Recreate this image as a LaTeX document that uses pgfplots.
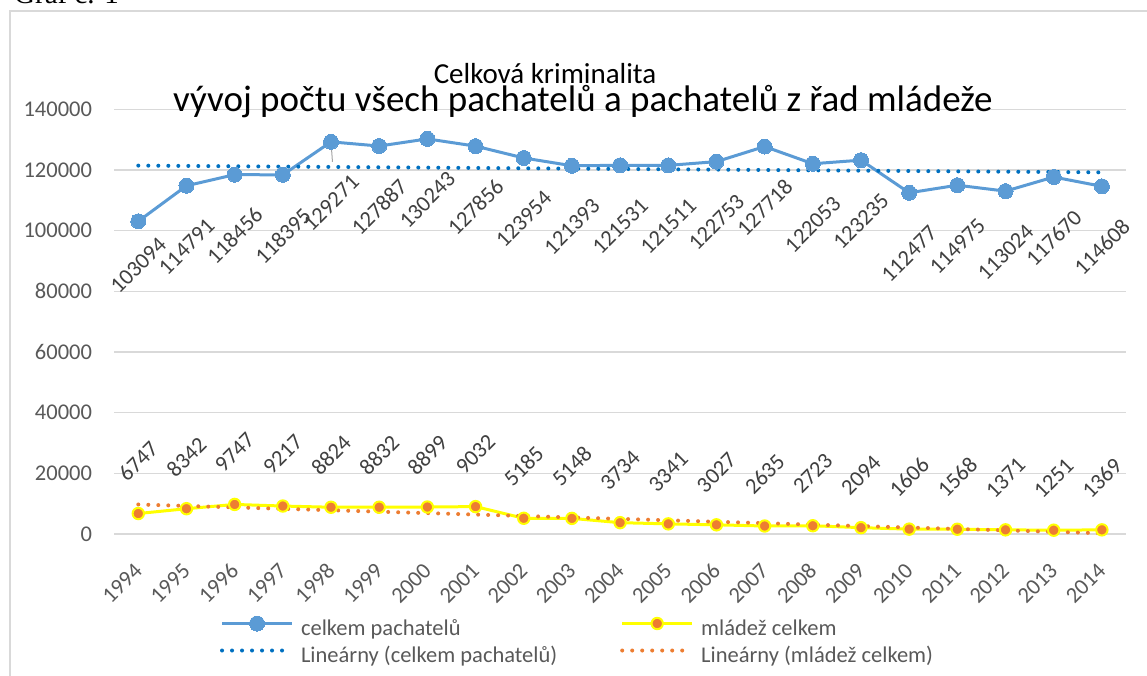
\documentclass[border=0pt]{standalone}
\usepackage{fontspec}
\setmainfont{Carlito}
\newfontfamily\seriffont{Liberation Serif}
\usepackage{pgfplots}
\usepackage{pgfplotstable}
\pgfplotsset{compat=1.18}

\definecolor{blueS}{HTML}{5B9BD5}
\definecolor{blueT}{HTML}{0070C0}
\definecolor{orangeS}{HTML}{ED7D31}
\definecolor{yel}{HTML}{FFFF00}
\definecolor{gridc}{HTML}{D9D9D9}
\definecolor{tickc}{HTML}{595959}
\definecolor{labc}{HTML}{404040}

\pgfplotstableread{
x y lab off
0 103094 103094 -44
1 114791 114791 -61
2 118456 118456 -61
3 118395 118395 -61
4 129271 129271 -61
5 127887 127887 -61
6 130243 130243 -61
7 127856 127856 -61
8 123954 123954 -61
9 121393 121393 -61
10 121531 121531 -61
11 121511 121511 -61
12 122753 122753 -61
13 127718 127718 -61
14 122053 122053 -61
15 123235 123235 -61
16 112477 112477 -61
17 114975 114975 -61
18 113024 113024 -61
19 117670 117670 -61
20 114608 114608 -61
}\celkem

\pgfplotstableread{
x y lab off
0 6747 6747 52
1 8342 8342 52
2 9747 9747 52
3 9217 9217 52
4 8824 8824 52
5 8832 8832 52
6 8899 8899 52
7 9032 9032 52
8 5185 5185 52
9 5148 5148 52
10 3734 3734 52
11 3341 3341 52
12 3027 3027 52
13 2635 2635 52
14 2723 2723 52
15 2094 2094 52
16 1606 1606 52
17 1568 1568 52
18 1371 1371 52
19 1251 1251 52
20 1369 1369 52
}\mladez

\newcommand{\smallf}{\fontsize{22.5}{27}\selectfont}

\begin{document}
\begin{tikzpicture}[x=1pt,y=1pt]
\useasboundingbox (0,0) rectangle (1147,675);
\draw[gridc, line width=1.5pt] (10,-5) -- (10,664) -- (1152,664);
\node[font=\seriffont\fontsize{29}{34}\selectfont, anchor=base west, inner sep=0pt] at (14,671) {Graf č. 1};

\begin{axis}[
  at={(114.2pt,141pt)}, anchor=south west,
  scale only axis, width=1011.8pt, height=424.7pt,
  xmin=-0.5, xmax=20.5, ymin=0, ymax=140000,
  axis line style={draw=none},
  major tick length=0pt,
  scaled y ticks=false,
  ytick={0,20000,40000,60000,80000,100000,120000,140000},
  yticklabels={0,20000,40000,60000,80000,100000,120000,140000},
  xtick={0,...,20},
  xticklabels={1994,1995,1996,1997,1998,1999,2000,2001,2002,2003,2004,2005,2006,2007,2008,2009,2010,2011,2012,2013,2014},
  ymajorgrids, grid style={gridc, line width=1.5pt},
  tick label style={font=\smallf, text=tickc},
  yticklabel style={anchor=east, inner sep=0pt, xshift=-22pt},
  xticklabel style={anchor=east, inner sep=0pt, xshift=0pt, yshift=-33pt, rotate=45},
  clip=false,
  legend columns=2,
  legend cell align=left,
  legend style={at={(0.1046,-0.1931)}, anchor=north west, draw=none, fill=none,
    inner sep=0pt, outer sep=0pt, font=\smallf, text=tickc,
    row sep=6pt,
    nodes={inner sep=0pt, text height=16pt, text depth=5pt},
    /tikz/every odd column/.append style={column sep=7pt},
    /tikz/every even column/.append style={column sep=63pt}},
  legend image code/.code={\draw[mark repeat=2,mark phase=2,#1] plot coordinates {(0pt,6pt) (35pt,6pt) (70pt,6pt)};},
  nodes near coords style={font=\smallf, text=labc, anchor=center, inner sep=0pt},
]
\addplot[blueS, line width=3pt, mark=*, mark size=7.5pt, mark options={fill=blueS, draw=blueS, line width=0pt},
  point meta=explicit symbolic, nodes near coords,
  visualization depends on={\thisrow{off} \as \off},
  every node near coord/.append style={yshift=\off pt, rotate=45}]
  table[x=x, y=y, meta=lab] {\celkem};
\addlegendentry{celkem pachatelů}

\addplot[yel, line width=3pt, mark=*, mark size=5.7pt, mark options={fill=orangeS, draw=yel, line width=2pt},
  point meta=explicit symbolic, nodes near coords,
  visualization depends on={\thisrow{off} \as \off},
  every node near coord/.append style={yshift=\off pt, rotate=45}]
  table[x=x, y=y, meta=lab] {\mladez};
\addlegendentry{mládež celkem}

\addplot[blueT, line width=4pt, line cap=round, dash pattern=on 0pt off 10pt] coordinates {(0,121443) (20,119214)};
\addlegendentry{Lineárny (celkem pachatelů)}
\addplot[orangeS, line width=4pt, line cap=round, dash pattern=on 0pt off 10pt] coordinates {(0,9728) (20,243)};
\addlegendentry{Lineárny (mládež celkem)}

\draw[gray!70, line width=1pt] (axis cs:4,129271) -- (axis cs:4.03,122700);
\end{axis}

\node[font=\fontsize{37}{44}\selectfont, anchor=base west, inner sep=0pt] at (173,563) {vývoj počtu všech pachatelů a pachatelů z řad mládeže};
\node[font=\fontsize{29}{35}\selectfont, anchor=base, inner sep=0pt] at (545,591) {Celková kriminalita};
\end{tikzpicture}
\end{document}
